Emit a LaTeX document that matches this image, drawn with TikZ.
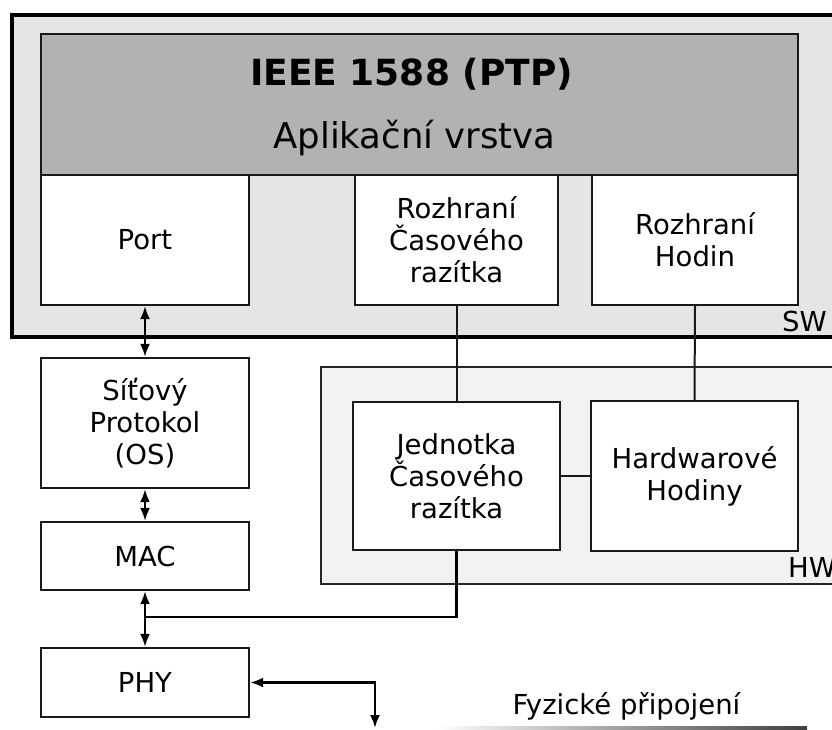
\documentclass[tikz,border=0pt]{standalone}
\usepackage{fontspec}
\setmainfont{DejaVu Sans}
\usetikzlibrary{arrows.meta}

\tikzset{
  box/.style={draw=black!90, line width=2.2pt, fill=white, inner sep=0pt,
              align=center, font=\fontsize{27.5}{32}\selectfont},
  layer/.style={draw=black!90, line width=2.2pt, fill=black!30, inner sep=0pt},
  biarrow/.style={line width=2.4pt, {Latex[length=13pt,width=10pt]}-{Latex[length=13pt,width=10pt]}},
  wire/.style={line width=2pt, draw=black!90},
  label/.style={inner sep=0pt, anchor=base west, font=\fontsize{27.5}{32}\selectfont},
}

\begin{document}
\begin{tikzpicture}[x=1pt,y=-1pt]
  \clip (0,0) rectangle (832,729);
  \fill[white] (0,0) rectangle (832,729);

  % software and hardware areas
  \draw[line width=3.5pt, fill=black!10] (12,15) rectangle (860,337);
  \draw[line width=2.2pt, draw=black!85, fill=black!5] (321,367) rectangle (860,584);
  \node[label] (swlbl) at (782,331) {SW};
  \node[label] (hwlbl) at (788,577) {HW};

  % application layer
  \node[layer, minimum width=757pt, minimum height=141pt] (app) at (419.5,104.5) {};
  \node[inner sep=0pt, anchor=base, font=\bfseries\fontsize{36}{40}\selectfont] (ttl) at (411.5,85) {IEEE 1588 (PTP)};
  \node[inner sep=0pt, anchor=base, font=\fontsize{35.5}{40}\selectfont] (sub) at (414.5,148) {Aplikační vrstva};

  % software blocks
  \node[box, minimum width=208pt, minimum height=130pt] (port) at (145,240) {Port};
  \node[box, minimum width=203pt, minimum height=130pt] (rct) at (456.5,240) {Rozhraní\\Časového\\razítka};
  \node[box, minimum width=206pt, minimum height=130pt] (rh) at (695,240) {Rozhraní\\Hodin};

  % network stack
  \node[box, minimum width=208pt, minimum height=130pt] (net) at (145,423) {Síťový\\Protokol\\(OS)};
  \node[box, minimum width=208pt, minimum height=68pt] (mac) at (145,556) {MAC};
  \node[box, minimum width=208pt, minimum height=69pt] (phy) at (145,682.5) {PHY};

  % hardware blocks
  \node[box, minimum width=207pt, minimum height=148pt] (jct) at (456.5,476) {Jednotka\\Časového\\razítka};
  \node[box, minimum width=207pt, minimum height=150pt] (hwc) at (694.5,476) {Hardwarové\\Hodiny};

  % physical link
  \node[inner sep=0pt, anchor=base, font=\fontsize{27.5}{32}\selectfont] (phys) at (626.5,714) {Fyzické připojení};
  \shade[left color=white, right color=black!75] (435,726) rectangle (807,729);

  \coordinate (tap) at (145,617);
  \coordinate (cable) at (375,728);

  % connectors
  \draw[biarrow] (port.south) -- (net.north);
  \draw[biarrow] (net.south) -- (mac.north);
  \draw[biarrow] (mac.south) -- (phy.north);
  \draw[biarrow] (phy.east) -| (cable);
  \draw[wire] (rct.south) -- (jct.north);
  \draw[wire] (rh.south) -- (hwc.north);
  \draw[wire] (jct.east) -- (hwc.west);
  \draw[line width=2.4pt] (jct.south) |- (tap);
\end{tikzpicture}
\end{document}
